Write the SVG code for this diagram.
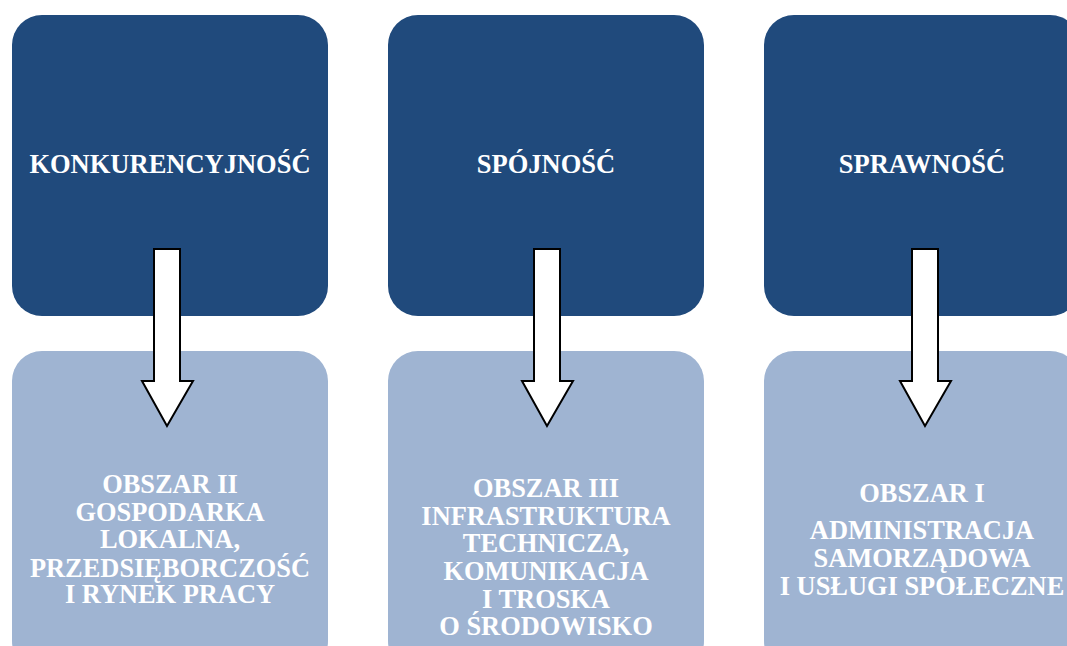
<svg xmlns="http://www.w3.org/2000/svg" width="1067" height="646" viewBox="0 0 1067 646">
<style>
.top{fill:#204A7C}
.bot{fill:#9FB4D2}
.t{font-family:"Liberation Serif","Times New Roman",serif;font-weight:bold;fill:#FFFFFF;text-anchor:middle}
.h{font-size:26.5px}
.b{font-size:26.4px}
.arr{fill:#FFFFFF;stroke:#000000;stroke-width:2;stroke-linejoin:miter}
</style>
<rect width="1067" height="646" fill="#FFFFFF"/>
<g id="node-konkurencyjnosc">
<rect class="top" x="12" y="15" width="316" height="301" rx="30"/>
<text class="t h" x="170" y="173">KONKURENCYJNOŚĆ</text>
</g>
<g id="node-spojnosc">
<rect class="top" x="388" y="15" width="316" height="301" rx="30"/>
<text class="t h" x="546" y="173">SPÓJNOŚĆ</text>
</g>
<g id="node-sprawnosc">
<rect class="top" x="764" y="15" width="316" height="301" rx="30"/>
<text class="t h" x="922" y="173">SPRAWNOŚĆ</text>
</g>
<g id="node-obszar2">
<rect class="bot" x="12" y="351" width="316" height="320" rx="30"/>
<text class="t b" x="170" y="493">OBSZAR II</text>
<text class="t b" x="170" y="521">GOSPODARKA</text>
<text class="t b" x="170" y="548">LOKALNA,</text>
<text class="t b" x="170" y="577">PRZEDSIĘBORCZOŚĆ</text>
<text class="t b" x="170" y="603">I RYNEK PRACY</text>
</g>
<g id="node-obszar3">
<rect class="bot" x="388" y="351" width="316" height="320" rx="30"/>
<text class="t b" x="546" y="497">OBSZAR III</text>
<text class="t b" x="546" y="525">INFRASTRUKTURA</text>
<text class="t b" x="546" y="552">TECHNICZA,</text>
<text class="t b" x="546" y="580">KOMUNIKACJA</text>
<text class="t b" x="546" y="608">I TROSKA</text>
<text class="t b" x="546" y="635">O ŚRODOWISKO</text>
</g>
<g id="node-obszar1">
<rect class="bot" x="764" y="351" width="316" height="320" rx="30"/>
<text class="t b" x="922" y="502">OBSZAR I</text>
<text class="t b" x="922" y="539">ADMINISTRACJA</text>
<text class="t b" x="922" y="567">SAMORZĄDOWA</text>
<text class="t b" x="922" y="595">I USŁUGI SPOŁECZNE</text>
</g>
<g id="connectors">
<path class="arr" d="M154,249 H180 V381 H193 L167,426 L142,381 H154 Z"/>
<path class="arr" d="M534,249 H560 V381 H573 L547,426 L522,381 H534 Z"/>
<path class="arr" d="M912,249 H938 V381 H951 L925,426 L900,381 H912 Z"/>
</g>
</svg>
